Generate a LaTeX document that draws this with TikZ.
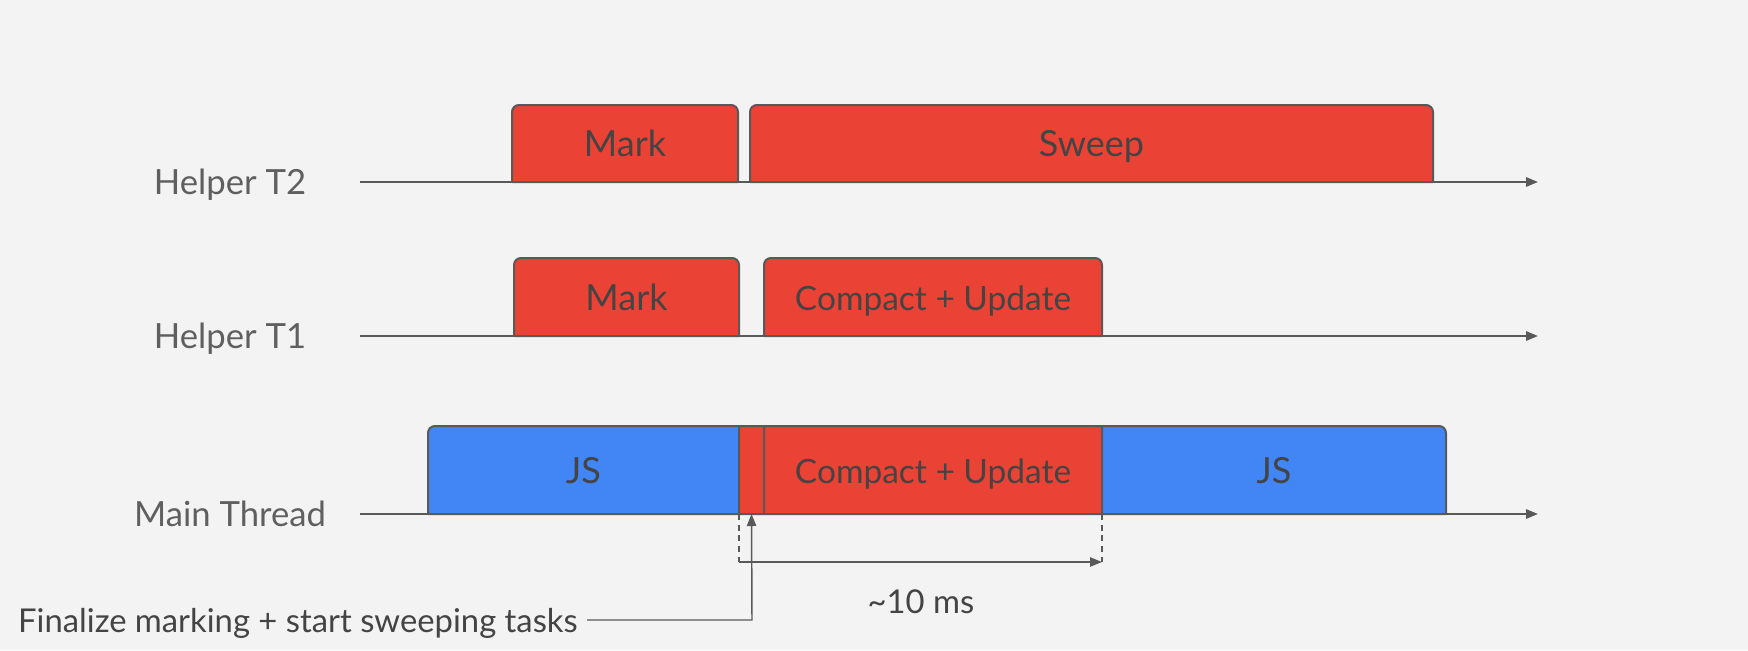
\documentclass[tikz,border=0pt]{standalone}
\usepackage{fontspec}
\setmainfont{Lato}
\usepackage{tikz}
\usetikzlibrary{arrows.meta,positioning}
\definecolor{gred}{HTML}{EA4335}
\definecolor{gblue}{HTML}{4285F4}
\definecolor{edge}{HTML}{595959}
\definecolor{ink}{HTML}{444444}
\definecolor{labelgray}{HTML}{5F5F5F}
\definecolor{paper}{HTML}{F3F3F3}
\tikzset{>={Triangle[length=9pt,width=7pt]}}

\begin{document}
\begin{tikzpicture}[x=0.75pt,y=-0.75pt,
    box/.style={draw=edge,line width=1.5pt,line join=round},
    timeline/.style={draw=edge,line width=1.5pt,->},
    pointer/.style={draw=edge,line width=1.1pt},
    lane label/.style={text=labelgray,font=\fontsize{26}{30}\selectfont,anchor=base},
    task text/.style={text=ink,font=\fontsize{27}{32}\selectfont,anchor=base},
    note text/.style={text=ink,font=\fontsize{24.6}{29}\selectfont}]

\newcommand\compactfont{\fontsize{25.1}{29}\selectfont}
% name, left, right, top, bottom, left radius, right radius, fill, text
\newcommand\taskbox[9]{%
  \filldraw[box,fill=#8] (#2,#5) -- ([yshift=-#6pt]#2,#4)
    arc[start angle=180,end angle=90,radius=#6pt] -- ([xshift=-#7pt]#3,#4)
    arc[start angle=90,end angle=0,radius=#7pt] -- (#3,#5) -- cycle;
  \coordinate (#1-sw) at (#2,#5);
  \coordinate (#1-s) at ({(#2+#3)/2},#5);
  \coordinate (#1-se) at (#3,#5);
  \node[task text] (#1) at ({(#2+#3)/2},{(#4+#5)/2+13}) {#9};
}

\useasboundingbox (0,0) rectangle (1748,650);
\fill[paper] (0,0) rectangle (1748,650);

% the three lanes
\coordinate (t2start) at (360,182);
\coordinate (t2end) at (1538,182);
\coordinate (t1start) at (360,336);
\coordinate (t1end) at (1538,336);
\coordinate (mainstart) at (360,514);
\coordinate (mainend) at (1538,514);
\draw[timeline] (t2start) -- (t2end);
\draw[timeline] (t1start) -- (t1end);
\draw[timeline] (mainstart) -- (mainend);

\node[lane label] (t2label) at (230,194) {Helper T2};
\node[lane label] (t1label) at (230,348) {Helper T1};
\node[lane label] (mainlabel) at (230,526) {Main Thread};

% helper T2
\taskbox{t2mark}{512}{738}{105}{182}{5.25}{5.25}{gred}{Mark}
\taskbox{t2sweep}{750}{1433}{105}{182}{5.25}{5.25}{gred}{Sweep}

% helper T1
\taskbox{t1mark}{514}{739}{258}{336}{5.25}{5.25}{gred}{Mark}
\taskbox{t1compact}{764}{1102}{258}{336}{5.25}{5.25}{gred}{\compactfont Compact + Update}

% main thread
\taskbox{js1}{428}{739}{426}{514}{5.25}{0.01}{gblue}{JS}
\taskbox{fin}{739}{764}{426}{514}{0.01}{0.01}{gred}{}
\taskbox{mcompact}{764}{1102}{426}{514}{0.01}{0.01}{gred}{\compactfont Compact + Update}
\taskbox{js2}{1102}{1446}{426}{514}{0.01}{5.25}{gblue}{JS}

% pause length
\draw[pointer,dash pattern=on 4.5pt off 3.5pt] (fin-sw) -- ++(0,48) coordinate (dimL);
\draw[pointer,dash pattern=on 4.5pt off 3.5pt] (mcompact-se) -- ++(0,48) coordinate (dimR);
\draw[pointer,->] (dimL) -- (dimR);
\node[note text,anchor=base] (dimlabel) at (921,613) {\textasciitilde10 ms};

% finalize note
\node[note text,anchor=base east,inner xsep=6.75pt] (finnote) at (587,632)
  {Finalize marking + start sweeping tasks};
\coordinate (bend) at (752,620);
\draw[pointer,->] (finnote.east |- bend) -- (bend) -- (fin-s);
\end{tikzpicture}
\end{document}
